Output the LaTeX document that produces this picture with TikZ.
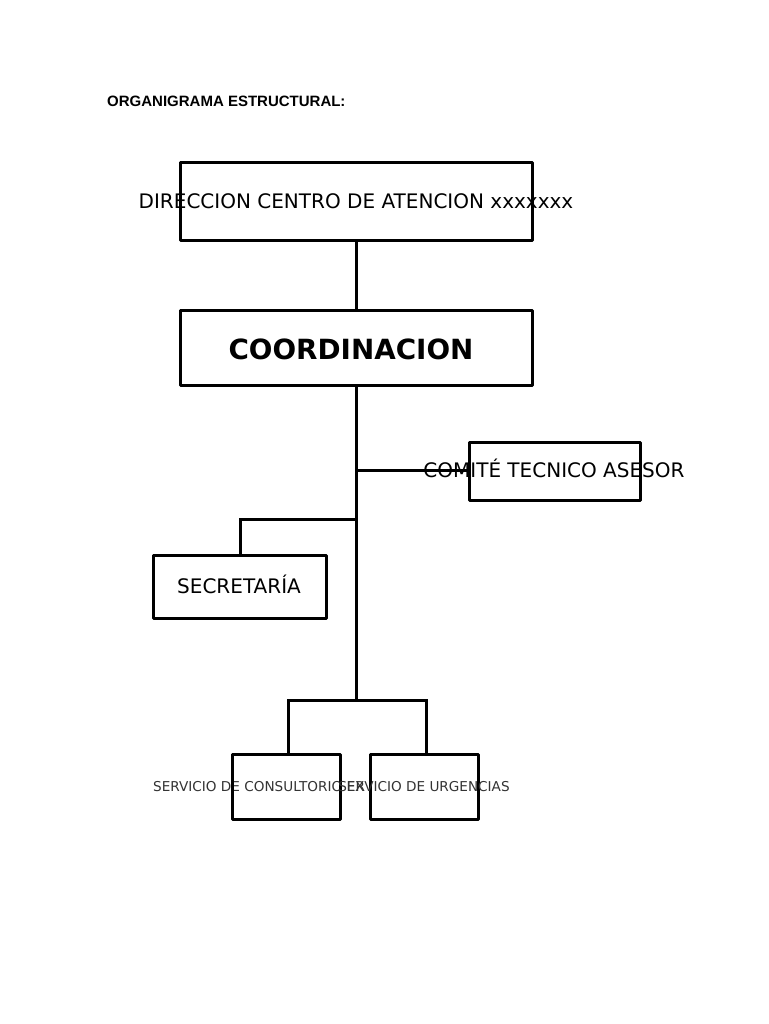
\documentclass[tikz,border=0pt]{standalone}
\usepackage{fontspec}
\setmainfont{DejaVu Sans}
\newfontfamily\titlefont{Liberation Sans}
\begin{document}
\begin{tikzpicture}[x=1pt,y=-1pt,
  box/.style={draw=black,line width=3pt,rectangle,inner sep=0pt,line join=round},
  txt/.style={inner sep=0pt,anchor=center},
  big/.style={txt,font=\fontsize{20}{24}\selectfont},
  small/.style={txt,font=\fontsize{13.6}{16}\selectfont,text=black!80},
  conn/.style={draw=black,line width=3pt}]
\useasboundingbox[fill=white] (0,0) rectangle (768,1024);
% title
\node[anchor=west,inner sep=0pt,font=\titlefont\bfseries\fontsize{15}{17}\selectfont] (title) at (107,101) {ORGANIGRAMA ESTRUCTURAL:};
% texts (drawn first, boxes drawn over them)
\node[big,anchor=base] (tdir) at (356,209) {DIRECCION CENTRO DE ATENCION xxxxxxx};
\node[txt,anchor=base,font=\bfseries\fontsize{27.8}{30}\selectfont] (tcoord) at (351,359) {COORDINACION};
\node[big,anchor=base] (tcom) at (554,477) {COMITÉ TECNICO ASESOR};
\node[big,anchor=base] (tsec) at (239,593) {SECRETARÍA};
\node[small,anchor=base west] (tcons) at (153,791) {SERVICIO DE CONSULTORIO EX};
% boxes
\node[box,minimum width=352pt,minimum height=77pt] (dir) at (356,201.5) {};
\node[box,minimum width=352pt,minimum height=75pt] (coord) at (356,347.5) {};
\node[box,minimum width=171pt,minimum height=58pt] (com) at (554.5,471) {};
\node[box,minimum width=173pt,minimum height=63pt] (sec) at (239.5,586.5) {};
\node[box,minimum width=108pt,minimum height=65pt] (cons) at (286,786.5) {};
\node[box,fill=white,minimum width=108pt,minimum height=65pt] (urg) at (424,786.5) {};
\node[small,anchor=base] (turg) at (424,791) {SERVICIO DE URGENCIAS};
% connectors
\coordinate (j1) at (356,470);
\coordinate (j2) at (356,519);
\coordinate (j3) at (356,700);
\coordinate (s1) at (240,519);
\coordinate (b1) at (288,700);
\coordinate (b2) at (426,700);
\draw[conn] (dir.south) -- (coord.north);
\draw[conn] (coord.south) -- (j3);
\draw[conn] (j1) -- (com.west |- j1);
\draw[conn] (j2) -- (s1) -- (s1 |- sec.north);
\draw[conn,line join=miter] (b1 |- cons.north) -- (b1) -- (b2) -- (b2 |- urg.north);
\end{tikzpicture}
\end{document}
